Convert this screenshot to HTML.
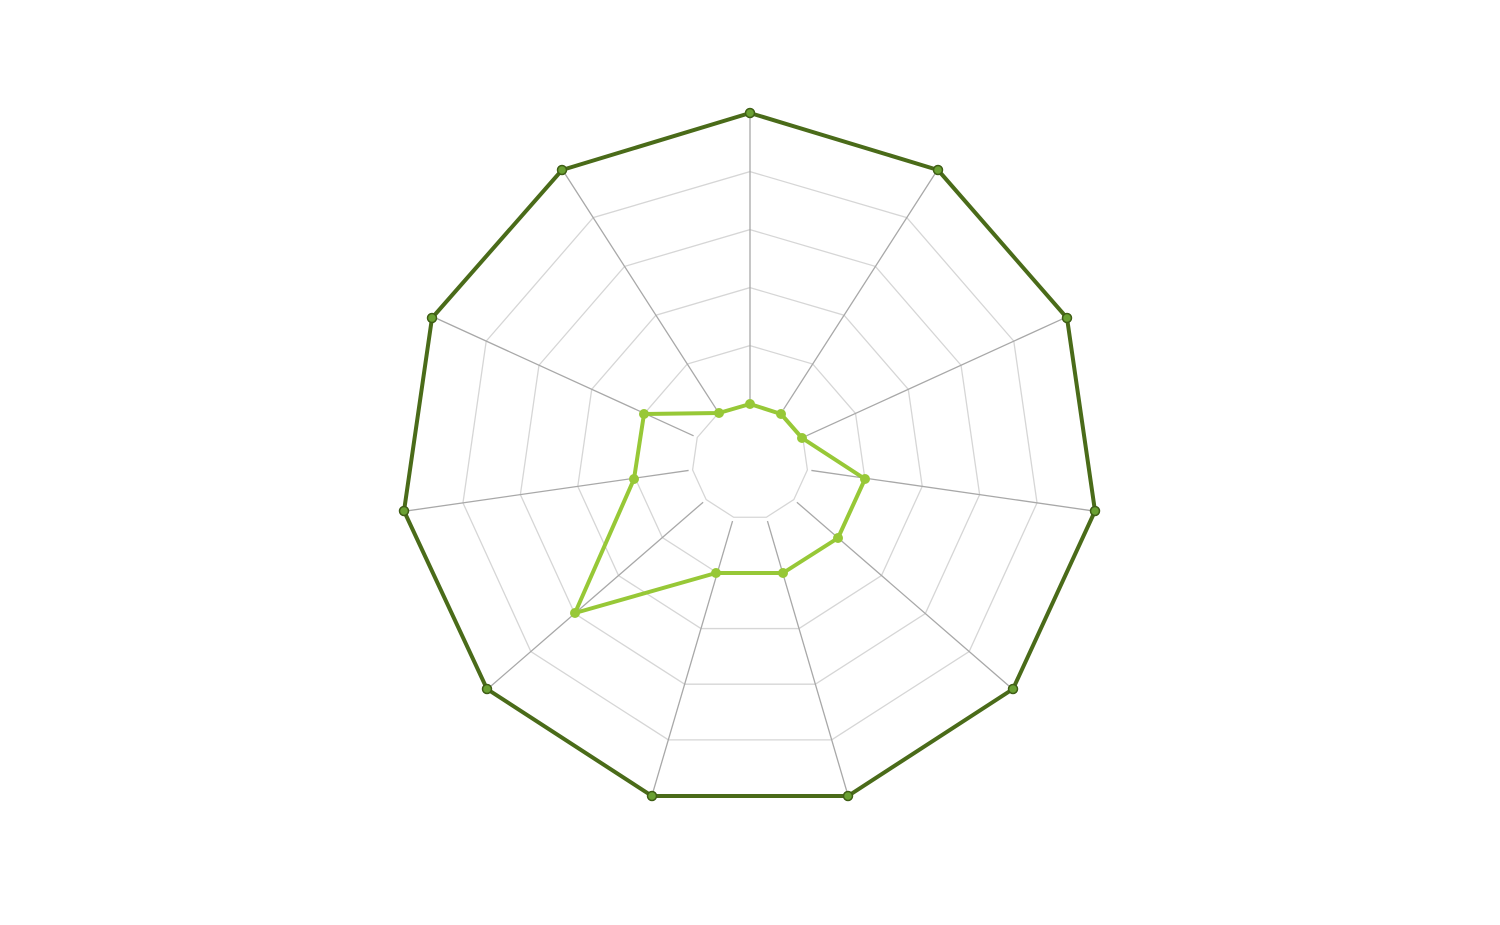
<!DOCTYPE html>
<html><head><meta charset="utf-8"><style>
html,body{margin:0;padding:0;background:#fff;width:1500px;height:925px;overflow:hidden}
</style></head><body>
<svg width="1500" height="925" viewBox="0 0 1500 925" xmlns="http://www.w3.org/2000/svg">
<defs>
<polygon id="ring" points="0,-1 .5406,-.8413 .9096,-.4154 .9898,.1423 .7557,.6549 .2817,.9595 -.2817,.9595 -.7557,.6549 -.9898,.1423 -.9096,-.4154 -.5406,-.8413"/>
</defs>
<g transform="translate(750,461.6)">
<g fill="none" stroke="#d6d6d6" stroke-width="1.3">
<use href="#ring" transform="scale(58)" vector-effect="non-scaling-stroke" style="stroke-width:0.0224"/>
<use href="#ring" transform="scale(116)" style="stroke-width:0.0112"/>
<use href="#ring" transform="scale(174)" style="stroke-width:0.0075"/>
<use href="#ring" transform="scale(232)" style="stroke-width:0.0056"/>
<use href="#ring" transform="scale(290)" style="stroke-width:0.0045"/>
</g>
<g stroke="#a8a8a8" stroke-width="1.3">
<line x1="0" y1="-62" x2="0" y2="-348.6" transform="rotate(0)"/>
<line x1="0" y1="-62" x2="0" y2="-348.6" transform="rotate(32.727)"/>
<line x1="0" y1="-62" x2="0" y2="-348.6" transform="rotate(65.455)"/>
<line x1="0" y1="-62" x2="0" y2="-348.6" transform="rotate(98.18)"/>
<line x1="0" y1="-62" x2="0" y2="-348.6" transform="rotate(130.91)"/>
<line x1="0" y1="-62" x2="0" y2="-348.6" transform="rotate(163.64)"/>
<line x1="0" y1="-62" x2="0" y2="-348.6" transform="rotate(196.36)"/>
<line x1="0" y1="-62" x2="0" y2="-348.6" transform="rotate(229.09)"/>
<line x1="0" y1="-62" x2="0" y2="-348.6" transform="rotate(261.82)"/>
<line x1="0" y1="-62" x2="0" y2="-348.6" transform="rotate(294.55)"/>
<line x1="0" y1="-62" x2="0" y2="-348.6" transform="rotate(327.27)"/>
</g>
</g>
<polygon points="750,113 938,170 1067,318 1095,511 1013,689 848,796 652,796 487,689 404,511 432,318 562,170" fill="none" stroke="#4a6b19" stroke-width="4" stroke-linejoin="round"/>
<g fill="#6aa032" stroke="#3f5e15" stroke-width="1.5">
<circle cx="750" cy="113" r="4.5"/><circle cx="938" cy="170" r="4.5"/><circle cx="1067" cy="318" r="4.5"/><circle cx="1095" cy="511" r="4.5"/><circle cx="1013" cy="689" r="4.5"/><circle cx="848" cy="796" r="4.5"/><circle cx="652" cy="796" r="4.5"/><circle cx="487" cy="689" r="4.5"/><circle cx="404" cy="511" r="4.5"/><circle cx="432" cy="318" r="4.5"/><circle cx="562" cy="170" r="4.5"/>
</g>
<polygon points="750,404 781,414 802,438 865,479 838,538 783,573 716,573 575,613 634,479 644,414 719,413" fill="none" stroke="#97c837" stroke-width="4" stroke-linejoin="round"/>
<g fill="#97c837">
<circle cx="750" cy="404" r="5"/><circle cx="781" cy="414" r="5"/><circle cx="802" cy="438" r="5"/><circle cx="865" cy="479" r="5"/><circle cx="838" cy="538" r="5"/><circle cx="783" cy="573" r="5"/><circle cx="716" cy="573" r="5"/><circle cx="575" cy="613" r="5"/><circle cx="634" cy="479" r="5"/><circle cx="644" cy="414" r="5"/><circle cx="719" cy="413" r="5"/>
</g>
</svg>
</body></html>
